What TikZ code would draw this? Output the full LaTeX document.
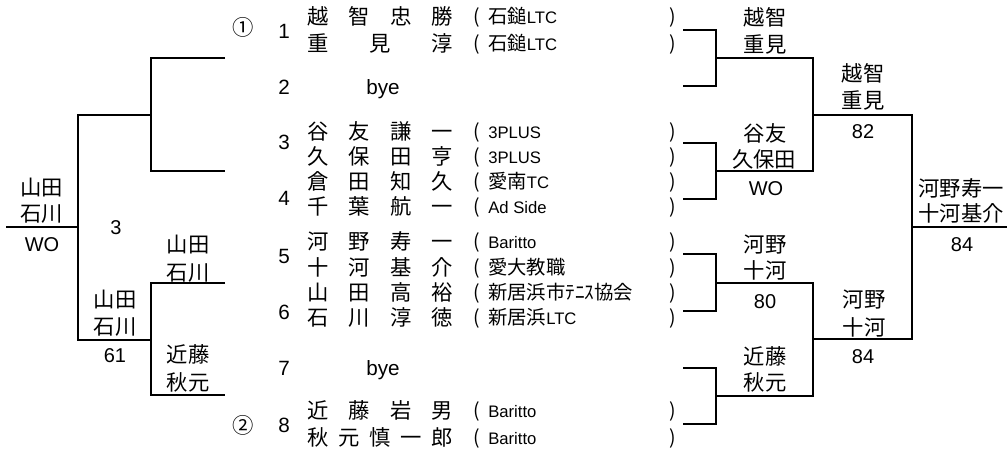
\documentclass[tikz,border=0pt]{standalone}
\usepackage{fontspec}
\setmainfont{Liberation Sans}
\newfontfamily\jp{Noto Sans CJK JP}
\begin{document}
\begin{tikzpicture}[x=0.75pt,y=-0.75pt,
  br/.style={line width=1.7pt},
  nm/.style={font=\jp\fontsize{16}{18}\selectfont, inner sep=0pt, anchor=west, text height=11.7pt, text depth=0pt},
  lab/.style={font=\jp\fontsize{16}{18}\selectfont, inner sep=0pt, text height=11.7pt, text depth=0pt},
  num/.style={font=\fontsize{15.5}{18}\selectfont, inner sep=0pt, text height=11.2pt, text depth=0pt},
  score/.style={font=\fontsize{15}{18}\selectfont, inner sep=0pt, text height=10.8pt, text depth=0pt},
  org/.style={font=\fontsize{12.5}{14}\selectfont, inner sep=0pt, anchor=west, text height=10pt, text depth=0pt},
  par/.style={font=\jp\fontsize{14.5}{16}\selectfont, inner sep=0pt, text height=9.6pt, text depth=0pt}]
\useasboundingbox (0,0) rectangle (1007,454);

% ---------- middle column ----------
\node[lab] (c1) at (243,28) {①};
\node[lab] (c2) at (243,426) {②};
\foreach \yy/\k [count=\i] in {31/1,87/2,142/3,198/4,256/5,312/6,368/7,425/8}
  {\node[num] (no\i) at (284,\yy) {\k};}
\node[num] (bye2) at (383,87) {bye};
\node[num] (bye7) at (383,368) {bye};

\foreach \yy/\nm/\og [count=\i] in {
 17/{越\hfill 智\hfill 忠\hfill 勝}/{{\jp\fontsize{14.5}{16}\selectfont 石鎚}LTC},
 44/{重\hfill 見\hfill 淳}/{{\jp\fontsize{14.5}{16}\selectfont 石鎚}LTC},
 132/{谷\hfill 友\hfill 謙\hfill 一}/{3PLUS},
 157/{久\hfill 保\hfill 田\hfill 亨}/{3PLUS},
 182/{倉\hfill 田\hfill 知\hfill 久}/{{\jp\fontsize{14.5}{16}\selectfont 愛南}TC},
 207/{千\hfill 葉\hfill 航\hfill 一}/{Ad Side},
 242/{河\hfill 野\hfill 寿\hfill 一}/{Baritto},
 268/{十\hfill 河\hfill 基\hfill 介}/{{\jp\fontsize{14.5}{16}\selectfont 愛大教職}},
 293/{山\hfill 田\hfill 高\hfill 裕}/{{\jp\fontsize{14.5}{16}\selectfont 新居浜市ﾃﾆｽ協会}},
 318/{石\hfill 川\hfill 淳\hfill 徳}/{{\jp\fontsize{14.5}{16}\selectfont 新居浜}LTC},
 411/{近\hfill 藤\hfill 岩\hfill 男}/{Baritto},
 438/{秋\hfill 元\hfill 慎\hfill 一\hfill 郎}/{Baritto}}
{
 \node[nm] (name\i) at (307.5,\yy) {\makebox[108.75pt]{\nm}};
 \node[par] (lp\i) at (477,\yy) {(};
 \node[org] (org\i) at (488,\yy) {\og};
 \node[par] (rp\i) at (673,\yy) {)};
}

% ---------- right bracket coordinates ----------
\coordinate (A1) at (683,30);  \coordinate (A2) at (683,86);
\coordinate (A3) at (683,143); \coordinate (A4) at (683,199);
\coordinate (A5) at (683,254); \coordinate (A6) at (683,311);
\coordinate (A7) at (683,368); \coordinate (A8) at (683,424);
\coordinate (J1) at (716,58);  \coordinate (J2) at (716,171);
\coordinate (J3) at (716,283); \coordinate (J4) at (716,396);
\coordinate (K1) at (813,58);  \coordinate (K2) at (813,171);
\coordinate (K3) at (813,283); \coordinate (K4) at (813,396);
\coordinate (M1) at (813,115); \coordinate (M2) at (813,339);
\coordinate (N1) at (912,115); \coordinate (N2) at (912,339);
\coordinate (P) at (912,227);  \coordinate (Q) at (1007,227);

\draw[br] (A1) -| (J1) |- (A2);
\draw[br] (A3) -| (J2) |- (A4);
\draw[br] (A5) -| (J3) |- (A6);
\draw[br] (A7) -| (J4) |- (A8);
\draw[br] (J1) -- (K1) -- (K2) -- (J2);
\draw[br] (J3) -- (K3) -- (K4) -- (J4);
\draw[br] (M1) -- (N1) -- (N2) -- (M2);
\draw[br] (P) -- (Q);

% ---------- left bracket coordinates ----------
\coordinate (L1) at (225,58);  \coordinate (L2) at (225,171);
\coordinate (L3) at (225,283); \coordinate (L4) at (225,395);
\coordinate (LJ1) at (151,58);  \coordinate (LJ2) at (151,171);
\coordinate (LJ3) at (151,283); \coordinate (LJ4) at (151,395);
\coordinate (LM1) at (151,115); \coordinate (LM2) at (151,340);
\coordinate (LK1) at (78,115);  \coordinate (LK2) at (78,340);
\coordinate (LP) at (78,227);   \coordinate (LQ) at (6,227);

\draw[br] (L1) -- (LJ1) -- (LJ2) -- (L2);
\draw[br] (L3) -- (LJ3) -- (LJ4) -- (L4);
\draw[br] (LM1) -- (LK1) -- (LK2) -- (LM2);
\draw[br] (LP) -- (LQ);

% ---------- right labels ----------
\node[lab] (r1a) at (765,18) {越智};
\node[lab] (r1b) at (765,45) {重見};
\node[lab] (r2a) at (765,134) {谷友};
\node[lab] (r2b) at (764,160) {久保田};
\node[score] (r2s) at (766,188) {WO};
\node[lab] (r3a) at (765,245) {河野};
\node[lab] (r3b) at (765,271) {十河};
\node[score] (r3s) at (765,301) {80};
\node[lab] (r4a) at (765,357) {近藤};
\node[lab] (r4b) at (765,383) {秋元};
\node[lab] (s1a) at (863,74) {越智};
\node[lab] (s1b) at (863,101) {重見};
\node[score] (s1s) at (863,131) {82};
\node[lab] (s2a) at (864,300) {河野};
\node[lab] (s2b) at (864,328) {十河};
\node[score] (s2s) at (863,356) {84};
\node[lab] (fa) at (961,189) {河野寿一};
\node[lab] (fb) at (961,214) {十河基介};
\node[score] (fs) at (962,244) {84};

% ---------- left labels ----------
\node[lab] (la) at (42,188) {山田};
\node[lab] (lb) at (42,214) {石川};
\node[score] (ls) at (42,244) {WO};
\node[score] (l3) at (116,227) {3};
\node[lab] (u1a) at (188,245) {山田};
\node[lab] (u1b) at (188,273) {石川};
\node[lab] (u2a) at (115,300) {山田};
\node[lab] (u2b) at (115,327) {石川};
\node[score] (u2s) at (115,355) {61};
\node[lab] (u3a) at (188,355) {近藤};
\node[lab] (u3b) at (188,383) {秋元};
\end{tikzpicture}
\end{document}
